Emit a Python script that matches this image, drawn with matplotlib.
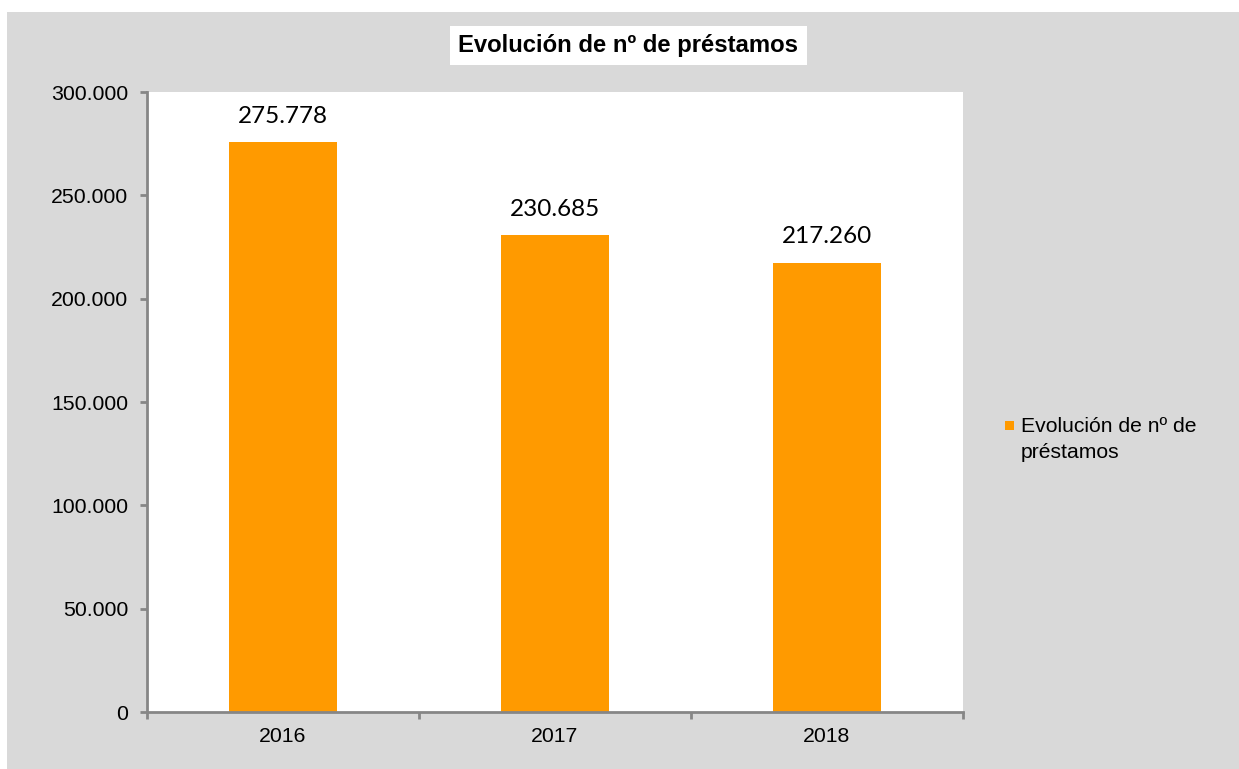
import matplotlib
matplotlib.use("Agg")
import matplotlib.pyplot as plt
from matplotlib.patches import Rectangle

years = ["2016", "2017", "2018"]
prestamos = [275778, 230685, 217260]
value_labels = ["275.778", "230.685", "217.260"]
y_ticks = [0, 50000, 100000, 150000, 200000, 250000, 300000]
y_tick_labels = ["0", "50.000", "100.000", "150.000", "200.000", "250.000", "300.000"]
title = "Evolución de nº de préstamos"
legend_label = "Evolución de nº de\npréstamos"

W, H = 1239, 769
fig = plt.figure(figsize=(W / 100, H / 100), dpi=100, facecolor="white")

# grey chart area behind everything
fig.patches.append(Rectangle((7 / W, 0), (W - 7) / W, (H - 12) / H,
                             transform=fig.transFigure, facecolor="#d9d9d9",
                             edgecolor="none", zorder=-5))

ax = fig.add_axes([147 / W, (H - 712) / H, (963 - 147) / W, (712 - 92) / H])
ax.set_facecolor("white")
ax.set_zorder(1)

bar_color = "#ff9a00"
x = list(range(len(years)))
ax.bar(x, prestamos, width=0.4, color=bar_color, zorder=2)

for xi, v, lab in zip(x, prestamos, value_labels):
    ax.annotate(lab, (xi, v), xytext=(0, 26), textcoords="offset pixels",
                ha="center", va="center", fontsize=17.5, family="Lato",
                color="#000000", annotation_clip=False)

ax.set_xlim(-0.5, 2.5)
ax.set_ylim(0, 300000)

ax.set_yticks(y_ticks)
ax.set_yticklabels(y_tick_labels, family="Liberation Sans", fontsize=15.3)
ax.set_xticks(x)
ax.set_xticklabels(years, family="Liberation Sans", fontsize=15.3)
ax.set_xticks([-0.5, 0.5, 1.5, 2.5], minor=True)

axis_color = "#868686"
for s in ["top", "right"]:
    ax.spines[s].set_visible(False)
for s in ["left", "bottom"]:
    ax.spines[s].set_color(axis_color)
    ax.spines[s].set_linewidth(2)

ax.tick_params(axis="y", which="major", length=5, width=2, color=axis_color,
               pad=8.5, labelcolor="black")
ax.tick_params(axis="x", which="major", length=0, pad=10.5, labelcolor="black")
ax.tick_params(axis="x", which="minor", length=5, width=2, color=axis_color,
               direction="out")

fig.text(628.5 / W, 1 - 45.5 / H, title, ha="center", va="center",
         fontsize=17.2, fontweight="bold", family="Liberation Sans",
         bbox=dict(facecolor="white", edgecolor="none", pad=6.0))

# legend
fig.patches.append(Rectangle((1005 / W, 1 - 430 / H), 9 / W, 9 / H,
                             transform=fig.transFigure, facecolor=bar_color,
                             edgecolor="none", zorder=3))
fig.text(1021 / W, 1 - 417 / H, legend_label, ha="left", va="top",
         fontsize=15.2, family="Liberation Sans", linespacing=1.45)

fig.savefig("out.png", dpi=100, facecolor="white")
